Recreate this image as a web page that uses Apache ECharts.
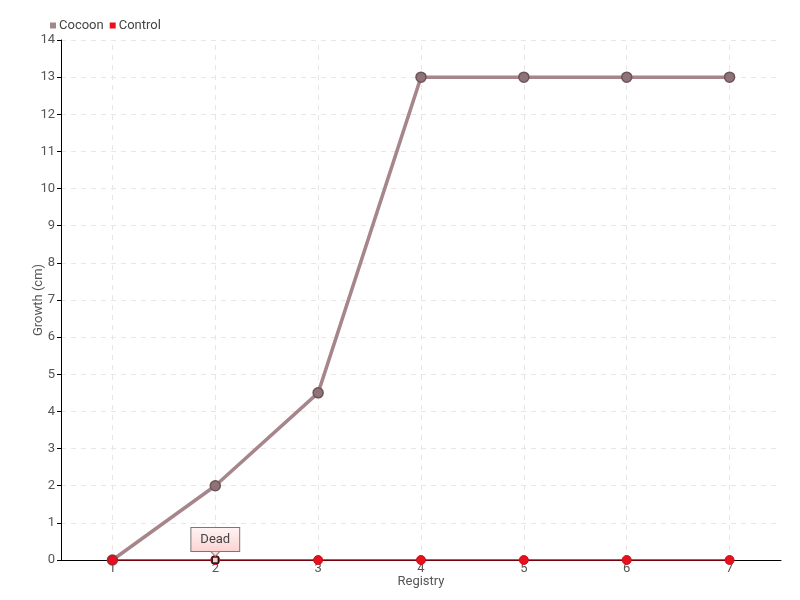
<!DOCTYPE html>
<html><head><meta charset="utf-8">
<script src="https://cdn.jsdelivr.net/npm/echarts@6/dist/echarts.min.js"></script>
<style>html,body{margin:0;padding:0;background:#fff}#c{width:800px;height:600px}</style>
</head><body><div id="c"></div>
<script>
const categories = ['1','2','3','4','5','6','7'];
const cocoon = [0, 2, 4.5, 13, 13, 13, 13];
const control = [0, 0, 0, 0, 0, 0, 0];
const yTicks = [0,1,2,3,4,5,6,7,8,9,10,11,12,13,14];
const annotationIndex = 1;
const annotationText = 'Dead';

const font = 'Roboto, "Liberation Sans Narrow", sans-serif';
const chart = echarts.init(document.getElementById('c'));
const only = arr => arr.map((v, i) => i === annotationIndex ? v : null);
chart.setOption({
  animation: false,
  textStyle: {fontFamily: font},
  legend: {
    left: 45, top: 14, itemWidth: 6, itemHeight: 6, itemGap: 6,
    icon: 'rect',
    textStyle: {fontFamily: font, fontSize: 13, color: '#444', padding: [0,0,0,-2]},
    data: [
      {name: 'Cocoon', itemStyle: {color: '#a08888', borderWidth: 0}},
      {name: 'Control', itemStyle: {color: '#e8101e', borderWidth: 0}}
    ]
  },
  grid: {left: 61, right: 19, top: 40, bottom: 40},
  xAxis: {
    type: 'category', data: categories, boundaryGap: true,
    name: 'Registry', nameLocation: 'middle', nameGap: 15, nameMoveOverlap: false,
    nameTextStyle: {fontFamily: font, fontSize: 13, color: '#555'},
    axisLine: {lineStyle: {color: '#000', width: 1}},
    axisTick: {show: false},
    axisLabel: {fontFamily: font, fontSize: 13, color: '#555', margin: 2, interval: 0},
    splitLine: {show: false}
  },
  yAxis: {
    type: 'value', min: 0, max: 14, interval: 1,
    name: 'Growth (cm)', nameLocation: 'middle', nameGap: 16, nameMoveOverlap: false,
    nameTextStyle: {fontFamily: font, fontSize: 13, color: '#555'},
    axisLine: {show: true, lineStyle: {color: '#000', width: 1}},
    axisTick: {show: true, inside: false, length: 4, lineStyle: {color: '#000'}},
    axisLabel: {fontFamily: font, fontSize: 13, color: '#555', margin: 6,
      formatter: v => yTicks.includes(v) ? String(v) : ''},
    splitLine: {show: true, lineStyle: {color: '#e6e6e6', type: [5,5]}}
  },
  series: [
    {
      name: 'Cocoon', type: 'line', data: cocoon, z: 3,
      symbol: 'circle', symbolSize: 10,
      lineStyle: {color: '#a6868a', width: 3.5},
      itemStyle: {color: '#8e7378', borderColor: '#6e5458', borderWidth: 1.5},
      markLine: {
        silent: true, symbol: 'none', label: {show: false}, z: 1,
        lineStyle: {color: '#e6e6e6', type: [5,5], width: 1},
        data: categories.map(c => ({xAxis: c}))
      }
    },
    {
      name: 'Control', type: 'line', z: 4,
      data: control.map((v, i) => i === annotationIndex ? {
        value: v,
        label: {
          show: true, position: 'top', distance: 4,
          formatter: annotationText,
          fontFamily: font, fontSize: 13, color: '#444',
          padding: [5, 9, 5, 9],
          borderColor: '#777', borderWidth: 1,
          backgroundColor: {type: 'linear', x: 0, y: 0, x2: 0, y2: 1,
            colorStops: [{offset: 0, color: '#fff4f4'}, {offset: 1, color: '#fbd2d2'}]}
        }
      } : v),
      symbol: 'circle', symbolSize: 9,
      lineStyle: {color: '#d0021b', width: 1.5},
      itemStyle: {color: '#e8101e', borderColor: '#c8101c', borderWidth: 1}
    },
    {
      name: 'marker', type: 'scatter', z: 5, silent: true,
      data: only(control),
      symbol: 'rect', symbolSize: 6,
      itemStyle: {color: '#fff', borderColor: '#000', borderWidth: 1.5}
    },
    {
      name: 'pointer', type: 'scatter', z: 6, silent: true,
      data: only(control),
      symbol: 'triangle', symbolRotate: 180, symbolSize: [9, 5], symbolOffset: [0, -6],
      itemStyle: {color: '#fbd4d4', borderColor: '#777', borderWidth: 1}
    }
  ]
});
</script></body></html>
